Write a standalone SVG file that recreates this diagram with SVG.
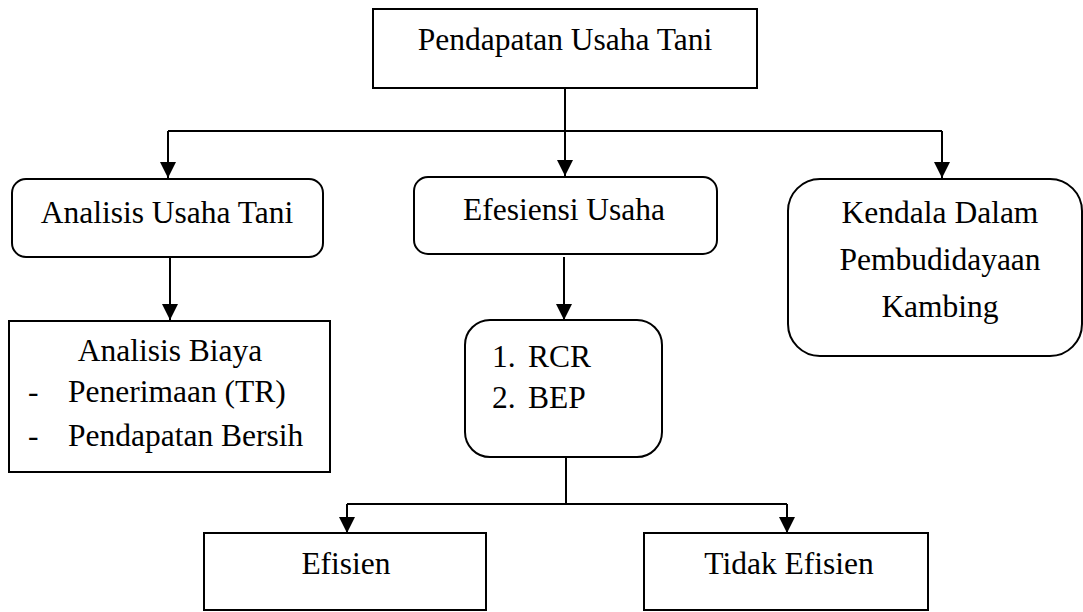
<svg xmlns="http://www.w3.org/2000/svg" width="1083" height="612" viewBox="0 0 1083 612">
<style>
.box{fill:#fff;stroke:#000;stroke-width:2}
.ln{fill:none;stroke:#000;stroke-width:2}
text{font-family:'Liberation Serif','DejaVu Serif',serif;font-size:31.5px;fill:#000}
.c{text-anchor:middle}
</style>
<defs>
<marker id="ah" markerWidth="17" markerHeight="17" refX="16" refY="8" orient="auto" markerUnits="userSpaceOnUse">
<path d="M0,0 L16,8 L0,16 Z" fill="#000"/>
</marker>
</defs>
<rect width="1083" height="612" fill="#fff"/>
<g id="connectors">
<polyline class="ln" points="565,88 565,131"/>
<polyline class="ln" points="168,131 942,131"/>
<polyline class="ln" points="168,131 168,178" marker-end="url(#ah)"/>
<polyline class="ln" points="565,131 565,176" marker-end="url(#ah)"/>
<polyline class="ln" points="942,131 942,178" marker-end="url(#ah)"/>
<polyline class="ln" points="170,257 170,320" marker-end="url(#ah)"/>
<polyline class="ln" points="564,257 564,320" marker-end="url(#ah)"/>
<polyline class="ln" points="566,457 566,504"/>
<polyline class="ln" points="347,504 787,504"/>
<polyline class="ln" points="347,504 347,533" marker-end="url(#ah)"/>
<polyline class="ln" points="787,504 787,533" marker-end="url(#ah)"/>
</g>
<g id="n-pendapatan">
<rect class="box" x="373" y="9" width="384" height="79"/>
<text class="c" x="565" y="50" font-family="'Liberation Serif', serif">Pendapatan Usaha Tani</text>
</g>
<g id="n-analisis-usaha">
<rect class="box" x="12" y="179" width="311" height="78" rx="14"/>
<text class="c" x="167" y="223">Analisis Usaha Tani</text>
</g>
<g id="n-efesiensi">
<rect class="box" x="414" y="177" width="303" height="77" rx="14"/>
<text class="c" x="564" y="220">Efesiensi Usaha</text>
</g>
<g id="n-kendala">
<rect class="box" x="788" y="179" width="294" height="177" rx="32"/>
<text class="c" x="940" y="223">Kendala Dalam</text>
<text class="c" x="940" y="270">Pembudidayaan</text>
<text class="c" x="940" y="317">Kambing</text>
</g>
<g id="n-analisis-biaya">
<rect class="box" x="9" y="321" width="321" height="151"/>
<text class="c" x="170" y="361">Analisis Biaya</text>
<text x="28" y="402">-</text>
<text x="68" y="402">Penerimaan (TR)</text>
<text x="28" y="446">-</text>
<text x="68" y="446">Pendapatan Bersih</text>
</g>
<g id="n-rcr">
<rect class="box" x="465" y="320" width="197" height="137" rx="25"/>
<text x="492" y="367">1.</text>
<text x="528" y="367">RCR</text>
<text x="492" y="408">2.</text>
<text x="528" y="408">BEP</text>
</g>
<g id="n-efisien">
<rect class="box" x="204" y="533" width="282" height="77"/>
<text class="c" x="346" y="574">Efisien</text>
</g>
<g id="n-tidak">
<rect class="box" x="644" y="533" width="284" height="77"/>
<text class="c" x="789" y="574">Tidak Efisien</text>
</g>
</svg>
